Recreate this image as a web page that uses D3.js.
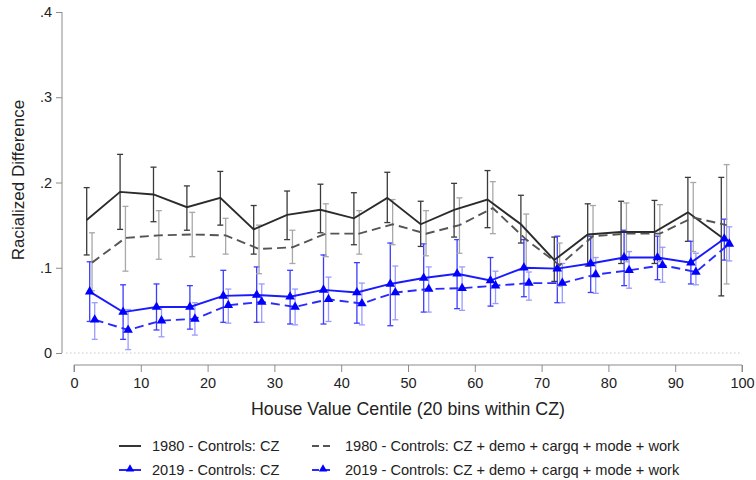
<!DOCTYPE html>
<html>
<head>
<meta charset="utf-8">
<script src="https://cdn.jsdelivr.net/npm/d3@7"></script>
<style>
  body { margin: 0; background: #fff; }
  svg { font-family: "Liberation Sans", Arial, sans-serif; }
</style>
</head>
<body>
<div id="chart"></div>
<script>
// bin midpoints (20 bins within CZ)
const centiles = [2.5, 7.5, 12.5, 17.5, 22.5, 27.5, 32.5, 37.5, 42.5, 47.5,
  52.5, 57.5, 62.5, 67.5, 72.5, 77.5, 82.5, 87.5, 92.5, 97.5];

// 1980 - Controls: CZ
const est1980 = [0.156, 0.189, 0.186, 0.171, 0.182, 0.145, 0.162, 0.168, 0.158, 0.182,
  0.151, 0.168, 0.180, 0.151, 0.109, 0.139, 0.142, 0.142, 0.165, 0.136];
const lo1980 = [0.115, 0.145, 0.154, 0.144, 0.150, 0.116, 0.133, 0.141, 0.127, 0.153,
  0.125, 0.136, 0.147, 0.129, 0.084, 0.102, 0.105, 0.105, 0.131, 0.067];
const hi1980 = [0.194, 0.233, 0.218, 0.196, 0.213, 0.173, 0.190, 0.198, 0.188, 0.212,
  0.178, 0.199, 0.214, 0.185, 0.136, 0.175, 0.178, 0.179, 0.206, 0.206];

// 1980 - Controls: CZ + demo + cargq + mode + work
const est1980f = [0.106, 0.135, 0.138, 0.139, 0.138, 0.122, 0.124, 0.140, 0.140, 0.151,
  0.140, 0.150, 0.170, 0.133, 0.103, 0.137, 0.140, 0.140, 0.159, 0.150];
const lo1980f = [0.073, 0.096, 0.110, 0.113, 0.116, 0.093, 0.105, 0.113, 0.116, 0.127,
  0.114, 0.117, 0.140, 0.099, 0.078, 0.105, 0.107, 0.107, 0.119, 0.081];
const hi1980f = [0.141, 0.172, 0.167, 0.165, 0.158, 0.150, 0.144, 0.175, 0.167, 0.180,
  0.167, 0.182, 0.201, 0.163, 0.129, 0.173, 0.176, 0.174, 0.200, 0.221];

// 2019 - Controls: CZ
const est2019 = [0.072, 0.048, 0.054, 0.054, 0.067, 0.068, 0.066, 0.074, 0.071, 0.081,
  0.088, 0.093, 0.085, 0.100, 0.099, 0.105, 0.112, 0.112, 0.106, 0.134];
const lo2019 = [0.037, 0.016, 0.027, 0.028, 0.036, 0.036, 0.034, 0.034, 0.035, 0.032,
  0.048, 0.052, 0.055, 0.066, 0.059, 0.071, 0.079, 0.086, 0.081, 0.109];
const hi2019 = [0.107, 0.080, 0.081, 0.079, 0.097, 0.101, 0.097, 0.115, 0.106, 0.129,
  0.128, 0.133, 0.112, 0.133, 0.137, 0.137, 0.144, 0.137, 0.131, 0.157];

// 2019 - Controls: CZ + demo + cargq + mode + work
const est2019f = [0.039, 0.027, 0.038, 0.040, 0.056, 0.060, 0.054, 0.063, 0.058, 0.071,
  0.075, 0.076, 0.079, 0.082, 0.082, 0.092, 0.097, 0.103, 0.095, 0.128];
const lo2019f = [0.016, 0.004, 0.019, 0.021, 0.035, 0.036, 0.033, 0.037, 0.033, 0.039,
  0.048, 0.050, 0.058, 0.062, 0.059, 0.070, 0.076, 0.083, 0.080, 0.108];
const hi2019f = [0.059, 0.051, 0.054, 0.059, 0.075, 0.081, 0.075, 0.089, 0.082, 0.102,
  0.101, 0.101, 0.096, 0.095, 0.105, 0.112, 0.119, 0.124, 0.117, 0.148];

const seriesNames = [
  "1980 - Controls: CZ",
  "1980 - Controls: CZ + demo + cargq + mode + work",
  "2019 - Controls: CZ",
  "2019 - Controls: CZ + demo + cargq + mode + work",
];

const xTicks = [0, 10, 20, 30, 40, 50, 60, 70, 80, 90, 100];
const yTicks = [0, 0.1, 0.2, 0.3, 0.4];
const yTickLabels = ["0", ".1", ".2", ".3", ".4"];

// series styling (offset = small horizontal shift so the bars don't overlap)
const series = [
  { name: seriesNames[0], est: est1980, lo: lo1980, hi: hi1980, offset: -0.6,
    line: "#2b2b2b", ci: "#3a3a3a", dash: null, marker: false },
  { name: seriesNames[2], est: est2019, lo: lo2019, hi: hi2019, offset: -0.15,
    line: "#1a1aff", ci: "#3c3cff", dash: null, marker: true },
  { name: seriesNames[1], est: est1980f, lo: lo1980f, hi: hi1980f, offset: 0.2,
    line: "#555555", ci: "#a8a8a8", dash: "9,5", marker: false },
  { name: seriesNames[3], est: est2019f, lo: lo2019f, hi: hi2019f, offset: 0.6,
    line: "#2a2aff", ci: "#9a9aff", dash: "9,5", marker: true },
];

const width = 756, height = 480;

const svg = d3.select("#chart").append("svg")
  .attr("width", width).attr("height", height);

const xScale = d3.scaleLinear().domain([0, 100]).range([74, 742]);
const yScale = d3.scaleLinear().domain([0, 0.4]).range([353, 12]);

// y axis (offset to the left of plot)
const yAxis = svg.append("g")
  .attr("transform", "translate(62,0)")
  .call(d3.axisLeft(yScale).tickValues(yTicks).tickSize(6).tickPadding(4)
    .tickFormat((d, i) => yTickLabels[i]));
yAxis.select(".domain").attr("stroke", "#8c8c8c").attr("d", "M0,12V353");
yAxis.selectAll(".tick line").attr("stroke", "#8c8c8c");
yAxis.selectAll(".tick text").attr("font-size", 14.5).attr("fill", "#222")
  .style("font-family", "'Liberation Sans', Arial, sans-serif");

// x axis (offset below plot)
const xAxis = svg.append("g")
  .attr("transform", "translate(0,365)")
  .call(d3.axisBottom(xScale).tickValues(xTicks).tickSize(7).tickPadding(6)
    .tickFormat(d3.format("d")));
xAxis.select(".domain").attr("stroke", "#8c8c8c")
  .attr("d", `M${xScale(0)},7V0H${xScale(100)}V7`);
xAxis.selectAll(".tick line").attr("stroke", "#8c8c8c");
xAxis.selectAll(".tick text").attr("font-size", 14.5).attr("fill", "#222")
  .style("font-family", "'Liberation Sans', Arial, sans-serif");

// dotted zero line
svg.append("line")
  .attr("x1", 66).attr("x2", xScale(100))
  .attr("y1", yScale(0)).attr("y2", yScale(0))
  .attr("stroke", "#c8c8c8").attr("stroke-width", 1)
  .attr("stroke-dasharray", "1.5,2.5");

// axis titles
svg.append("text")
  .attr("x", 408).attr("y", 415)
  .attr("text-anchor", "middle").attr("font-size", 17.8).attr("fill", "#222")
  .text("House Value Centile (20 bins within CZ)");

svg.append("text")
  .attr("transform", `translate(24,180) rotate(-90)`)
  .attr("text-anchor", "middle").attr("font-size", 17).attr("fill", "#222")
  .text("Racialized Difference");

// draw the data
const plot = svg.append("g");
const cap = 3;

series.forEach((s) => {
  const pts = centiles.map((c, i) => ({ x: c + s.offset, y: s.est[i], lo: s.lo[i], hi: s.hi[i] }));
  const g = plot.append("g");

  // error bars
  const bars = g.selectAll(".ci").data(pts).join("g").attr("class", "ci")
    .attr("stroke", s.ci).attr("stroke-width", 1.3);
  bars.append("line")
    .attr("x1", (d) => xScale(d.x)).attr("x2", (d) => xScale(d.x))
    .attr("y1", (d) => yScale(d.lo)).attr("y2", (d) => yScale(d.hi));
  bars.append("line")
    .attr("x1", (d) => xScale(d.x) - cap).attr("x2", (d) => xScale(d.x) + cap)
    .attr("y1", (d) => yScale(d.hi)).attr("y2", (d) => yScale(d.hi));
  bars.append("line")
    .attr("x1", (d) => xScale(d.x) - cap).attr("x2", (d) => xScale(d.x) + cap)
    .attr("y1", (d) => yScale(d.lo)).attr("y2", (d) => yScale(d.lo));
  s.pts = pts;
});

series.forEach((s) => {
  const line = d3.line().x((d) => xScale(d.x)).y((d) => yScale(d.y));
  plot.append("path").datum(s.pts)
    .attr("fill", "none").attr("stroke", s.line).attr("stroke-width", 1.9)
    .attr("stroke-dasharray", s.dash)
    .attr("d", line);
  if (s.marker) {
    plot.append("g").selectAll("path").data(s.pts).join("path")
      .attr("transform", (d) => `translate(${xScale(d.x)},${yScale(d.y)})`)
      .attr("d", d3.symbol(d3.symbolTriangle, 40)())
      .attr("fill", "#0000ff");
  }
});

// legend
const legendItems = [
  { s: series[0], x: 119, y: 446 },
  { s: series[2], x: 312, y: 446 },
  { s: series[1], x: 119, y: 470 },
  { s: series[3], x: 312, y: 470 },
];
const legend = svg.append("g");
legendItems.forEach((it) => {
  const g = legend.append("g").attr("transform", `translate(${it.x},${it.y})`);
  g.append("line").attr("x1", 0).attr("x2", 22).attr("y1", 0).attr("y2", 0)
    .attr("stroke", it.s.line).attr("stroke-width", 1.9)
    .attr("stroke-dasharray", it.s.dash ? "7,4" : null);
  if (it.s.marker) {
    g.append("path").attr("transform", "translate(11,-1)")
      .attr("d", d3.symbol(d3.symbolTriangle, 30)()).attr("fill", "#0000ff");
  }
  g.append("text").attr("x", 33).attr("y", 5)
    .attr("font-size", 14.6).attr("fill", "#222")
    .text(it.s.name);
});
</script>
</body>
</html>
